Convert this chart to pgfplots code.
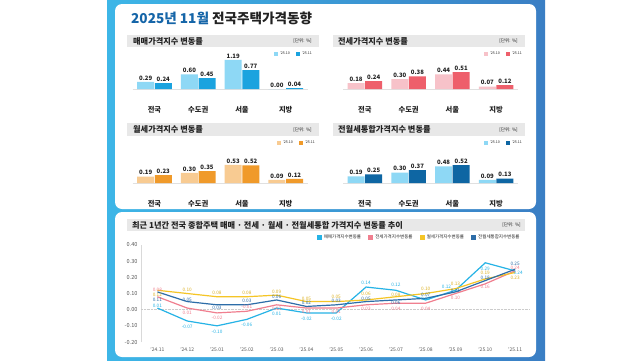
\documentclass[border=0pt]{standalone}
\usepackage{pgfplots}
\pgfplotsset{compat=1.18}
\usepackage{pgfplotstable}
\usepackage{fontspec}
\setmainfont{Noto Sans CJK KR}

\definecolor{frameL}{HTML}{3DB6E7}
\definecolor{frameR}{HTML}{3A7EC4}
\definecolor{titleblue}{HTML}{1565A8}
\definecolor{hdrgray}{HTML}{E8E8E8}
\definecolor{txt}{HTML}{222222}
\definecolor{p1a}{HTML}{8ED8F5}
\definecolor{p1b}{HTML}{1BA3DF}
\definecolor{p2a}{HTML}{F7C2C9}
\definecolor{p2b}{HTML}{EE5F6B}
\definecolor{p3a}{HTML}{F8CB92}
\definecolor{p3b}{HTML}{F09A2A}
\definecolor{p4a}{HTML}{8ED8F5}
\definecolor{p4b}{HTML}{0E66A3}
\definecolor{Lc}{HTML}{26B3E6}
\definecolor{Lp}{HTML}{F07F8F}
\definecolor{Ly}{HTML}{F5C526}
\definecolor{Lb}{HTML}{2D6DA8}

% bar chart data
\pgfplotstableread{
x a b
0 0.29 0.24
1 0.60 0.45
2 1.19 0.77
3 0.00 0.04
}\tblA
\pgfplotstableread{
x a b
0 0.18 0.24
1 0.30 0.38
2 0.44 0.51
3 0.07 0.12
}\tblB
\pgfplotstableread{
x a b
0 0.19 0.23
1 0.30 0.35
2 0.53 0.52
3 0.09 0.12
}\tblC
\pgfplotstableread{
x a b
0 0.19 0.25
1 0.30 0.37
2 0.48 0.52
3 0.09 0.13
}\tblD

% line chart data: x, value, label yshift (pt), label xshift (pt)
\pgfplotstableread{
x y d e
0 0.01 2 0
1 -0.07 -6 0
2 -0.10 -6 0
3 -0.06 -5 0
4 0.01 -6 0
5 -0.02 -6 0
6 -0.02 -6 0
7 0.14 4 0
8 0.12 5 0
9 0.06 1 0
10 0.12 3 -9
11 0.29 -6 0
12 0.24 -1.5 3
}\tLc
\pgfplotstableread{
x y d e
0 0.08 7 0
1 0.01 -5 0
2 -0.02 -4.5 0
3 -0.01 4.5 0
4 0.03 -4 0
5 0.01 -4 0
6 0.01 -4 0
7 0.03 -4 0
8 0.04 -6 0
9 0.04 -6 0
10 0.10 -4 0
11 0.16 -3 0
12 0.24 3 0
}\tLp
\pgfplotstableread{
x y d e
0 0.12 -4.5 0
1 0.10 4 0
2 0.08 4 0
3 0.08 4 0
4 0.09 3 0
5 0.05 3 0
6 0.05 5 0
7 0.06 6.5 0
8 0.08 2 0
9 0.10 5 0
10 0.13 5 0
11 0.19 6 0
12 0.23 -5 0
}\tLy
\pgfplotstableread{
x y d e
0 0.11 -8 0
1 0.05 2 0
2 0.03 -3 0
3 0.03 3.5 0
4 0.06 3 0
5 0.02 4 0
6 0.03 4 0
7 0.05 2.5 0
8 0.06 -3 0
9 0.07 4 0
10 0.11 1 0
11 0.18 3 0
12 0.25 5 0
}\tLb

\pgfplotsset{
  sqlegend/.style={legend image code/.code={\fill[##1] (0pt,-2pt) rectangle (4pt,2pt);}},
  sqlegendL/.style={legend image code/.code={\fill[##1] (0pt,-2pt) rectangle (4pt,2pt);}},
  barax/.style={
    scale only axis, width=175pt,
    ybar=0.6pt, bar width=17pt,
    ymin=0, xmin=-0.5, xmax=3.5,
    axis y line=none, axis x line*=bottom,
    x axis line style={draw=black!12, line width=0.7pt},
    xtick={0,1,2,3}, xticklabels={전국,수도권,서울,지방},
    major tick length=0pt,
    xticklabel style={font=\fontsize{7.3}{8}\selectfont\bfseries, text=txt, yshift=-14pt},
    nodes near coords,
    every node near coord/.append style={font=\fontsize{6}{6.5}\selectfont\bfseries, text=txt, inner sep=1.5pt},
    /pgf/number format/.cd, fixed, fixed zerofill, precision=2, assume math mode=true,
    /pgfplots/.cd,
    clip=false,
    legend style={anchor=east, draw=none, fill=none, legend columns=2,
      font=\fontsize{3.6}{4}\selectfont, text=txt, inner sep=0pt,
      /tikz/every even column/.append style={column sep=4pt}},
  },
}

\begin{document}
\begin{tikzpicture}
\path[use as bounding box] (0,0) rectangle (640pt,360pt);
\fill[white] (0,0) rectangle (640pt,360pt);
\shade[left color=frameL, right color=frameR] (107pt,0pt) rectangle (545pt,360pt);
\fill[white, rounded corners=7pt] (115pt,151pt) rectangle (536pt,356pt);
\fill[white, rounded corners=7pt] (115pt,3pt) rectangle (536pt,148pt);

% title
\node[anchor=west, inner sep=0pt, font=\fontsize{13.6}{15}\selectfont\bfseries] at (131pt,342pt)
  {\textcolor{titleblue}{2025년 11월} \textcolor{txt}{전국주택가격동향}};

% headers
\fill[hdrgray] (127pt,313pt) rectangle (319pt,325pt);
\fill[hdrgray] (333pt,313pt) rectangle (525pt,325pt);
\fill[hdrgray] (127pt,224pt) rectangle (319pt,237pt);
\fill[hdrgray] (333pt,224pt) rectangle (525pt,237pt);
\fill[hdrgray] (127pt,129pt) rectangle (525pt,141pt);
\begin{scope}[every node/.style={inner sep=0pt, text=txt}]
\node[anchor=west, font=\fontsize{8.2}{9}\selectfont\bfseries] at (133pt,319pt) {매매가격지수 변동률};
\node[anchor=west, font=\fontsize{8.2}{9}\selectfont\bfseries] at (338pt,319pt) {전세가격지수 변동률};
\node[anchor=west, font=\fontsize{8.2}{9}\selectfont\bfseries] at (133pt,230.5pt) {월세가격지수 변동률};
\node[anchor=west, font=\fontsize{8.2}{9}\selectfont\bfseries] at (338pt,230.5pt) {전월세통합가격지수 변동률};
\node[anchor=west, font=\fontsize{8.2}{9}\selectfont\bfseries] at (132pt,135pt) {최근 1년간 전국 종합주택 매매 · 전세 · 월세 · 전월세통합 가격지수 변동률 추이};
\node[anchor=east, font=\fontsize{4.6}{5}\selectfont] at (312pt,319pt) {[단위: \%]};
\node[anchor=east, font=\fontsize{4.6}{5}\selectfont] at (518pt,319pt) {[단위: \%]};
\node[anchor=east, font=\fontsize{4.6}{5}\selectfont] at (312pt,230.5pt) {[단위: \%]};
\node[anchor=east, font=\fontsize{4.6}{5}\selectfont] at (518pt,230.5pt) {[단위: \%]};
\node[anchor=east, font=\fontsize{4.6}{5}\selectfont] at (521pt,135pt) {[단위: \%]};
\end{scope}

% panel 1
\begin{axis}[barax, at={(132.6pt,271pt)}, anchor=south west, height=39pt, ymax=1.6,
  legend style={at={(1.037,0.91)}}]
\addplot[fill=p1a, draw=none, sqlegend] table[x=x,y=a]{\tblA};
\addplot[fill=p1b, draw=none, sqlegend] table[x=x,y=b]{\tblA};
\legend{'25.10,'25.11}
\end{axis}

% panel 2
\begin{axis}[barax, at={(343pt,271pt)}, anchor=south west, height=33pt, ymax=1.0,
  legend style={at={(1.034,1.06)}}]
\addplot[fill=p2a, draw=none, sqlegend] table[x=x,y=a]{\tblB};
\addplot[fill=p2b, draw=none, sqlegend] table[x=x,y=b]{\tblB};
\legend{'25.10,'25.11}
\end{axis}

% panel 3
\begin{axis}[barax, at={(132.6pt,177pt)}, anchor=south west, height=34pt, ymax=1.0,
  legend style={at={(1.054,1.18)}}]
\addplot[fill=p3a, draw=none, sqlegend] table[x=x,y=a]{\tblC};
\addplot[fill=p3b, draw=none, sqlegend] table[x=x,y=b]{\tblC};
\legend{'25.10,'25.11}
\end{axis}

% panel 4
\begin{axis}[barax, at={(343pt,177pt)}, anchor=south west, height=34.6pt, ymax=1.0,
  legend style={at={(1.034,1.156)}}]
\addplot[fill=p4a, draw=none, sqlegend] table[x=x,y=a]{\tblD};
\addplot[fill=p4b, draw=none, sqlegend] table[x=x,y=b]{\tblD};
\legend{'25.10,'25.11}
\end{axis}

% line chart
\begin{axis}[at={(141pt,18pt)}, anchor=south west, scale only axis, width=389pt, height=97pt,
  xmin=-0.55, xmax=12.5, ymin=-0.2, ymax=0.4,
  axis y line*=left, axis x line*=bottom,
  x axis line style={draw=none}, y axis line style={draw=black!15, line width=0.6pt},
  major tick length=0pt,
  ytick={-0.2,-0.1,0,0.1,0.2,0.3,0.4},
  xtick={0,...,12},
  xticklabels={'24.11,'24.12,'25.01,'25.02,'25.03,'25.04,'25.05,'25.06,'25.07,'25.08,'25.09,'25.10,'25.11},
  xticklabel style={font=\fontsize{5}{6}\selectfont, text=black!65, yshift=-2pt},
  yticklabel style={font=\fontsize{5.6}{6}\selectfont, text=black!65},
  /pgf/number format/.cd, fixed, fixed zerofill, precision=2, assume math mode=true,
  /pgfplots/.cd,
  clip=false,
  nodes near coords,
  visualization depends on={\thisrow{d} \as \dy},
  visualization depends on={\thisrow{e} \as \dx},
  every node near coord/.append style={font=\fontsize{4.7}{5}\selectfont, anchor=center, inner sep=0pt, yshift=\dy, xshift=\dx},
  legend style={at={(0.979,1.08)}, anchor=east, draw=none, fill=none, legend columns=4,
    font=\fontsize{4.5}{5}\selectfont, text=txt, inner sep=0pt,
    /tikz/every even column/.append style={column sep=5pt}},
]
\draw[densely dotted, black!20] (axis cs:-0.55,0) -- (axis cs:12.5,0);
\addplot[color=Lc, line width=1.2pt, mark=none, sqlegendL, every node near coord/.append style={text=Lc}] table[x=x,y=y]{\tLc};
\addplot[color=Lp, line width=1.2pt, mark=none, sqlegendL, every node near coord/.append style={text=Lp}] table[x=x,y=y]{\tLp};
\addplot[color=Ly, line width=1.2pt, mark=none, sqlegendL, every node near coord/.append style={text=Ly!90!black}] table[x=x,y=y]{\tLy};
\addplot[color=Lb, line width=1.2pt, mark=none, sqlegendL, every node near coord/.append style={text=Lb}] table[x=x,y=y]{\tLb};
\legend{매매가격지수변동률,전세가격지수변동률,월세가격지수변동률,전월세통합지수변동률}
\end{axis}
\end{tikzpicture}
\end{document}
